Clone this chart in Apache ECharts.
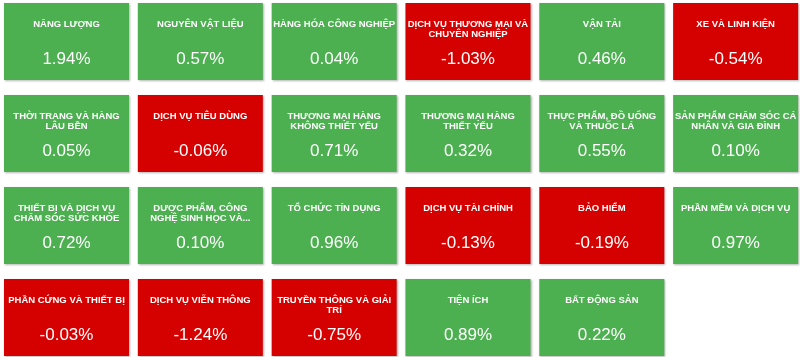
<!DOCTYPE html>
<html>
<head>
<meta charset="utf-8">
<script src="https://cdn.jsdelivr.net/npm/echarts@6/dist/echarts.min.js"></script>
<style>
html,body{margin:0;padding:0;background:#fff;}
#main{width:800px;height:357px;}
</style>
</head>
<body>
<div id="main"></div>
<script>
const sectors = [
  "NĂNG LƯỢNG", "NGUYÊN VẬT LIỆU", "HÀNG HÓA CÔNG NGHIỆP", "DỊCH VỤ THƯƠNG MẠI VÀ\nCHUYÊN NGHIỆP", "VẬN TẢI", "XE VÀ LINH KIỆN",
  "THỜI TRANG VÀ HÀNG\nLÂU BỀN", "DỊCH VỤ TIÊU DÙNG", "THƯƠNG MẠI HÀNG\nKHÔNG THIẾT YẾU", "THƯƠNG MẠI HÀNG\nTHIẾT YẾU", "THỰC PHẨM, ĐỒ UỐNG\nVÀ THUỐC LÁ", "SẢN PHẨM CHĂM SÓC CÁ\nNHÂN VÀ GIA ĐÌNH",
  "THIẾT BỊ VÀ DỊCH VỤ\nCHĂM SÓC SỨC KHỎE", "DƯỢC PHẨM, CÔNG\nNGHỆ SINH HỌC VÀ...", "TỔ CHỨC TÍN DỤNG", "DỊCH VỤ TÀI CHÍNH", "BẢO HIỂM", "PHẦN MỀM VÀ DỊCH VỤ",
  "PHẦN CỨNG VÀ THIẾT BỊ", "DỊCH VỤ VIỄN THÔNG", "TRUYỀN THÔNG VÀ GIẢI\nTRÍ", "TIỆN ÍCH", "BẤT ĐỘNG SẢN"
];
const changes = [
  1.94, 0.57, 0.04, -1.03, 0.46, -0.54,
  0.05, -0.06, 0.71, 0.32, 0.55, 0.10,
  0.72, 0.10, 0.96, -0.13, -0.19, 0.97,
  -0.03, -1.24, -0.75, 0.89, 0.22
];
const columns = 6;

const data = sectors.map((s, i) => [i % columns, Math.floor(i / columns), changes[i], s]);

const chart = echarts.init(document.getElementById('main'), null, {renderer: 'canvas'});
chart.setOption({
  animation: false,
  grid: {left: 0, top: 0, width: 800, height: 357},
  xAxis: {type: 'value', min: -0.4969, max: 5.4808, show: false},
  yAxis: {type: 'value', min: -0.4511, max: 3.4293, inverse: true, show: false},
  series: [{
    type: 'custom',
    data: data,
    encode: {x: 0, y: 1},
    renderItem: function (params, api) {
      const c = api.coord([api.value(0), api.value(1)]);
      const sz = api.size([1, 1]);
      const w = sz[0] - 8.8, h = sz[1] - 15;
      const x0 = c[0] - w / 2, y0 = c[1] - h / 2;
      const v = api.value(2);
      const item = data[params.dataIndex];
      const color = v >= 0 ? '#4CAF50' : '#D50000';
      return {
        type: 'group',
        children: [
          {
            type: 'rect',
            shape: {x: x0, y: y0, width: w, height: h},
            style: {fill: color, shadowBlur: 2, shadowColor: 'rgba(0,0,0,0.3)', shadowOffsetX: 1, shadowOffsetY: 1}
          },
          {
            type: 'text',
            style: {
              text: item[3], x: c[0], y: y0 + 16,
              align: 'center', verticalAlign: 'top',
              fill: '#fff', fontSize: 9.5, fontWeight: 'bold',
              fontFamily: '"Liberation Sans", Arial, sans-serif', lineHeight: 10.5
            }
          },
          {
            type: 'text',
            style: {
              text: v.toFixed(2) + '%', x: c[0], y: y0 + 56,
              align: 'center', verticalAlign: 'middle',
              fill: '#fff', fontSize: 17,
              fontFamily: '"Liberation Sans", Arial, sans-serif'
            }
          }
        ]
      };
    }
  }]
});
</script>
</body>
</html>
